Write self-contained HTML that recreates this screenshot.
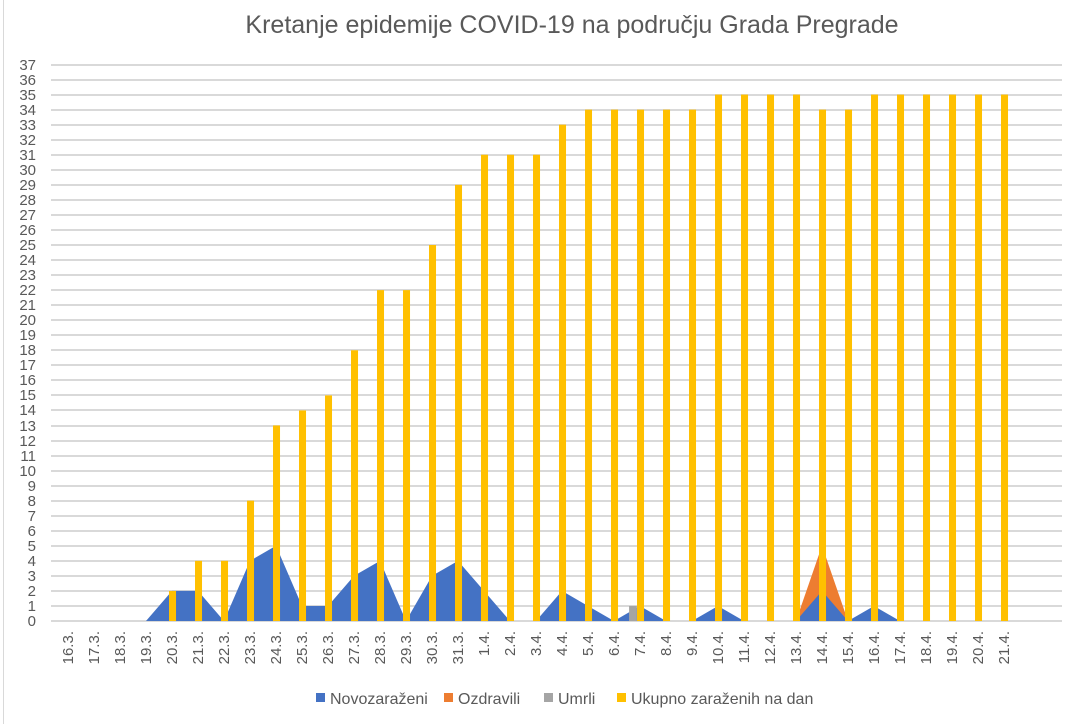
<!DOCTYPE html>
<html><head><meta charset="utf-8"><style>
html,body{margin:0;padding:0;background:#fff;}
svg{display:block;font-family:"Liberation Sans",sans-serif;}
</style></head><body>
<svg width="1066" height="724" viewBox="0 0 1066 724">
<rect width="1066" height="724" fill="#fff"/>
<line x1="3.5" y1="0" x2="3.5" y2="724" stroke="#d9d9d9"/>
<text x="572" y="33" text-anchor="middle" font-size="25" fill="#595959">Kretanje epidemije COVID-19 na području Grada Pregrade</text>
<g stroke="#d9d9d9" stroke-width="2">
<path d="M51 621H1062M51 606H1062M51 591H1062M51 576H1062M51 561H1062M51 546H1062M51 531H1062M51 516H1062M51 501H1062M51 486H1062M51 471H1062M51 456H1062M51 441H1062M51 426H1062M51 410H1062M51 395H1062M51 380H1062M51 365H1062M51 350H1062M51 335H1062M51 320H1062M51 305H1062M51 290H1062M51 275H1062M51 260H1062M51 245H1062M51 230H1062M51 215H1062M51 200H1062M51 185H1062M51 170H1062M51 155H1062M51 140H1062M51 125H1062M51 110H1062M51 95H1062M51 80H1062M51 65H1062"/>
</g>
<g font-size="15" fill="#595959" text-anchor="end">
<text x="36" y="626">0</text><text x="36" y="611">1</text><text x="36" y="596">2</text><text x="36" y="581">3</text><text x="36" y="566">4</text><text x="36" y="551">5</text><text x="36" y="536">6</text><text x="36" y="521">7</text><text x="36" y="506">8</text><text x="36" y="491">9</text><text x="36" y="476">10</text><text x="36" y="461">11</text><text x="36" y="446">12</text><text x="36" y="431">13</text><text x="36" y="415">14</text><text x="36" y="400">15</text><text x="36" y="385">16</text><text x="36" y="370">17</text><text x="36" y="355">18</text><text x="36" y="340">19</text><text x="36" y="325">20</text><text x="36" y="310">21</text><text x="36" y="295">22</text><text x="36" y="280">23</text><text x="36" y="265">24</text><text x="36" y="250">25</text><text x="36" y="235">26</text><text x="36" y="220">27</text><text x="36" y="205">28</text><text x="36" y="190">29</text><text x="36" y="175">30</text><text x="36" y="160">31</text><text x="36" y="145">32</text><text x="36" y="130">33</text><text x="36" y="115">34</text><text x="36" y="100">35</text><text x="36" y="85">36</text><text x="36" y="70">37</text>
</g>
<g transform="translate(68,621) scale(26,-15.04)">
<polygon fill="#ed7d31" points="28,0 29,5 30,0"/>
<polygon fill="#4472c4" points="0,0 3,0 4,2 5,2 6,0 7,4 8,5 9,1 10,1 11,3 12,4 13,0 14,3 15,4 16,2 17,0 18,0 19,2 20,1 21,0 22,1 23,0 24,0 25,1 26,0 27,0 28,0 29,2 30,0 31,1 32,0 36,0"/>
<rect x="-0.42" y="0" width="0.3" height="1" transform="translate(22,0)" fill="#a5a5a5"/>
<g fill="#ffc000">
<rect x="3.885" y="0" width="0.27" height="2"/>
<rect x="4.885" y="0" width="0.27" height="4"/>
<rect x="5.885" y="0" width="0.27" height="4"/>
<rect x="6.885" y="0" width="0.27" height="8"/>
<rect x="7.885" y="0" width="0.27" height="13"/>
<rect x="8.885" y="0" width="0.27" height="14"/>
<rect x="9.885" y="0" width="0.27" height="15"/>
<rect x="10.885" y="0" width="0.27" height="18"/>
<rect x="11.885" y="0" width="0.27" height="22"/>
<rect x="12.885" y="0" width="0.27" height="22"/>
<rect x="13.885" y="0" width="0.27" height="25"/>
<rect x="14.885" y="0" width="0.27" height="29"/>
<rect x="15.885" y="0" width="0.27" height="31"/>
<rect x="16.885" y="0" width="0.27" height="31"/>
<rect x="17.885" y="0" width="0.27" height="31"/>
<rect x="18.885" y="0" width="0.27" height="33"/>
<rect x="19.885" y="0" width="0.27" height="34"/>
<rect x="20.885" y="0" width="0.27" height="34"/>
<rect x="21.885" y="0" width="0.27" height="34"/>
<rect x="22.885" y="0" width="0.27" height="34"/>
<rect x="23.885" y="0" width="0.27" height="34"/>
<rect x="24.885" y="0" width="0.27" height="35"/>
<rect x="25.885" y="0" width="0.27" height="35"/>
<rect x="26.885" y="0" width="0.27" height="35"/>
<rect x="27.885" y="0" width="0.27" height="35"/>
<rect x="28.885" y="0" width="0.27" height="34"/>
<rect x="29.885" y="0" width="0.27" height="34"/>
<rect x="30.885" y="0" width="0.27" height="35"/>
<rect x="31.885" y="0" width="0.27" height="35"/>
<rect x="32.885" y="0" width="0.27" height="35"/>
<rect x="33.885" y="0" width="0.27" height="35"/>
<rect x="34.885" y="0" width="0.27" height="35"/>
<rect x="35.885" y="0" width="0.27" height="35"/>
</g>
</g>
<g font-size="15" fill="#595959" text-anchor="end">
<text transform="translate(73,631) rotate(-90)">16.3.</text>
<text transform="translate(99,631) rotate(-90)">17.3.</text>
<text transform="translate(125,631) rotate(-90)">18.3.</text>
<text transform="translate(151,631) rotate(-90)">19.3.</text>
<text transform="translate(177,631) rotate(-90)">20.3.</text>
<text transform="translate(203,631) rotate(-90)">21.3.</text>
<text transform="translate(229,631) rotate(-90)">22.3.</text>
<text transform="translate(255,631) rotate(-90)">23.3.</text>
<text transform="translate(281,631) rotate(-90)">24.3.</text>
<text transform="translate(307,631) rotate(-90)">25.3.</text>
<text transform="translate(333,631) rotate(-90)">26.3.</text>
<text transform="translate(359,631) rotate(-90)">27.3.</text>
<text transform="translate(385,631) rotate(-90)">28.3.</text>
<text transform="translate(411,631) rotate(-90)">29.3.</text>
<text transform="translate(437,631) rotate(-90)">30.3.</text>
<text transform="translate(463,631) rotate(-90)">31.3.</text>
<text transform="translate(489,631) rotate(-90)">1.4.</text>
<text transform="translate(515,631) rotate(-90)">2.4.</text>
<text transform="translate(541,631) rotate(-90)">3.4.</text>
<text transform="translate(567,631) rotate(-90)">4.4.</text>
<text transform="translate(593,631) rotate(-90)">5.4.</text>
<text transform="translate(619,631) rotate(-90)">6.4.</text>
<text transform="translate(645,631) rotate(-90)">7.4.</text>
<text transform="translate(671,631) rotate(-90)">8.4.</text>
<text transform="translate(697,631) rotate(-90)">9.4.</text>
<text transform="translate(723,631) rotate(-90)">10.4.</text>
<text transform="translate(749,631) rotate(-90)">11.4.</text>
<text transform="translate(775,631) rotate(-90)">12.4.</text>
<text transform="translate(801,631) rotate(-90)">13.4.</text>
<text transform="translate(827,631) rotate(-90)">14.4.</text>
<text transform="translate(853,631) rotate(-90)">15.4.</text>
<text transform="translate(879,631) rotate(-90)">16.4.</text>
<text transform="translate(905,631) rotate(-90)">17.4.</text>
<text transform="translate(931,631) rotate(-90)">18.4.</text>
<text transform="translate(957,631) rotate(-90)">19.4.</text>
<text transform="translate(983,631) rotate(-90)">20.4.</text>
<text transform="translate(1009,631) rotate(-90)">21.4.</text>
</g>
<g font-size="16" fill="#595959">
<rect x="316" y="693" width="9" height="9" fill="#4472c4"/><text x="330" y="704">Novozaraženi</text>
<rect x="444" y="693" width="9" height="9" fill="#ed7d31"/><text x="458" y="704">Ozdravili</text>
<rect x="544" y="693" width="9" height="9" fill="#a5a5a5"/><text x="558" y="704">Umrli</text>
<rect x="617" y="693" width="9" height="9" fill="#ffc000"/><text x="631" y="704">Ukupno zaraženih na dan</text>
</g>
</svg>
</body></html>
